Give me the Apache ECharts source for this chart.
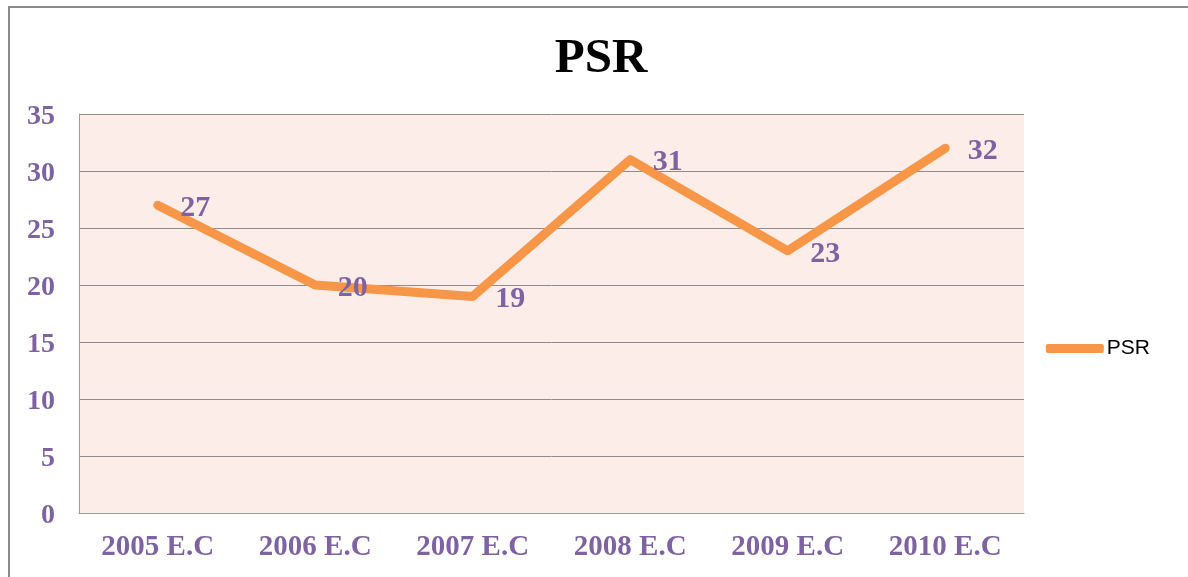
<!DOCTYPE html>
<html>
<head>
<meta charset="utf-8">
<script src="https://cdn.jsdelivr.net/npm/echarts@6/dist/echarts.min.js"></script>
<style>
    html, body { margin: 0; padding: 0; background: #fff; }
    #frame { position: absolute; left: 8px; top: 6px; width: 1180px; height: 571px;
             border-left: 2px solid #8a8a8a; border-top: 2px solid #8a8a8a; box-sizing: border-box; }
    #main { position: absolute; left: 0; top: 0; width: 1188px; height: 577px; }
</style>
</head>
<body>
<div id="frame"></div>
<div id="main"></div>
<script>
// chart data
var years = ['2005 E.C', '2006 E.C', '2007 E.C', '2008 E.C', '2009 E.C', '2010 E.C'];
var psr = [27, 20, 19, 31, 23, 32];
var yTicks = { min: 0, max: 35, step: 5 };

var purple = '#7F62A1';
var orange = '#F79646';
var serif = '"Liberation Serif", "Times New Roman", serif';

var chart = echarts.init(document.getElementById('main'));

var option = {
    animation: false,
    title: {
        text: 'PSR',
        left: 596,
        textAlign: 'center',
        top: 30,
        textStyle: { fontFamily: serif, fontWeight: 'bold', fontSize: 49, color: '#000' }
    },
    legend: {
        data: [{ name: 'PSR', icon: 'roundRect' }],
        right: 33,
        top: 333,
        orient: 'vertical',
        itemWidth: 58,
        itemHeight: 9,
        itemGap: 4,
        textStyle: { fontFamily: '"Liberation Sans", Arial, sans-serif', fontSize: 21, color: '#000', padding: [0, 0, 0, -2] }
    },
    grid: {
        left: 79, right: 164, top: 114, bottom: 64,
        show: true,
        backgroundColor: '#FCEDE8',
        borderWidth: 0
    },
    xAxis: {
        type: 'category',
        data: years,
        boundaryGap: true,
        axisLine: { lineStyle: { color: '#9a9a9a', width: 1 } },
        axisTick: { show: false },
        axisLabel: { fontFamily: serif, fontWeight: 'bold', fontSize: 29, color: purple, margin: 20 }
    },
    yAxis: {
        type: 'value',
        min: yTicks.min,
        max: yTicks.max,
        interval: yTicks.step,
        axisLine: { show: true, lineStyle: { color: '#9a9a9a', width: 1 } },
        axisTick: { show: false },
        axisLabel: {
            fontFamily: serif, fontWeight: 'bold', fontSize: 28, color: purple, margin: 24,
            verticalAlign: 'top', lineHeight: 28, padding: [-11, 0, 0, 0]
        },
        splitLine: { lineStyle: { color: '#8c8c8c', width: 1 } }
    },
    series: [
        {
            name: 'PSR',
            type: 'line',
            data: psr,
            symbol: 'circle',
            symbolSize: 1,
            showSymbol: true,
            color: orange,
            itemStyle: { color: orange },
            lineStyle: { color: orange, width: 9, cap: 'round', join: 'round' },
            label: {
                show: true,
                position: 'right',
                distance: 22,
                offset: [0, 3],
                fontFamily: serif, fontWeight: 'bold', fontSize: 30, color: purple
            }
        }
    ]
};
chart.setOption(option);
</script>
</body>
</html>
